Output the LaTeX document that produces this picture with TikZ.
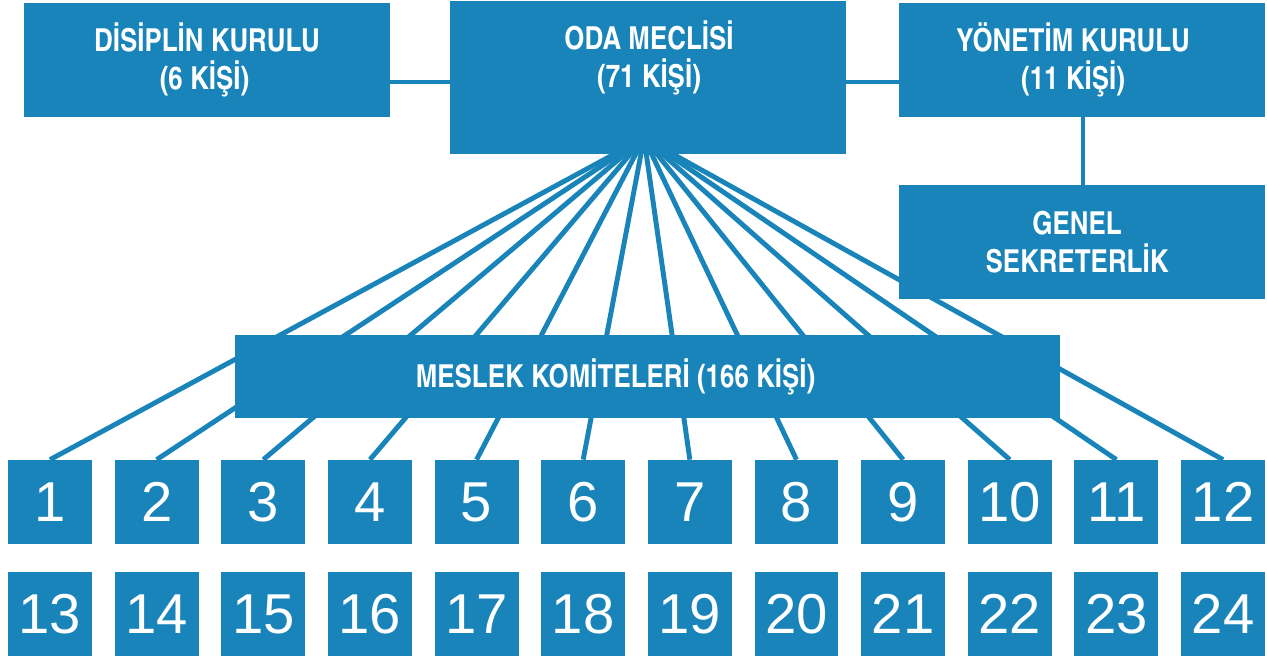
\documentclass[tikz,border=0pt]{standalone}
\usepackage{fontspec}
\usepackage{tikz}
\usetikzlibrary{positioning}
\newfontfamily\headfont{texgyreheroscn-bold.otf}
\newfontfamily\numfont{Liberation Sans}
\definecolor{orgBlue}{RGB}{25,132,185}

\begin{document}
\begin{tikzpicture}[x=0.02cm, y=-0.02cm,
        orgbox/.style={rectangle, fill=orgBlue, text=white, inner sep=0pt, align=center, font=\headfont\fontsize{18}{22}\selectfont},
        wide/.style={minimum width=7.32cm, minimum height=2.28cm},
        numbox/.style={rectangle, fill=orgBlue, text=white, inner sep=0pt, minimum width=1.68cm, minimum height=1.68cm, font=\numfont\fontsize{32}{36}\selectfont},
        link/.style={draw=orgBlue, line width=2.8pt},
    ]
    \useasboundingbox (0,0) rectangle (1267,659);
    % numbered committees
    \foreach \i in {1,...,12} {
        \pgfmathtruncatemacro\j{\i+12}
        \node[numbox] (n\i) at ({50+(\i-1)*106.64},502) {\i};
        \node[numbox] (n\j) at ({50+(\i-1)*106.64},614) {\j};
    }
    \coordinate (fan) at (644,138);
    \foreach \i in {1,...,12}
        \draw[link] (fan) -- (n\i.north);
    % boards
    \node[orgbox, minimum width=7.92cm, minimum height=3.06cm] at (648,77.5) (meclis) {};
    \node[orgbox] at (649,58) (meclisLbl) {ODA MECLİSİ\\(71 KİŞİ)};
    \node[orgbox, wide] at (207,60) (disiplin) {DİSİPLİN KURULU\\(6 KİŞİ)\hspace*{0.1cm}};
    \node[orgbox, wide] at (1082,60) (yonetim) {YÖNETİM KURULU\hspace*{0.36cm}\\(11 KİŞİ)\hspace*{0.36cm}};
    \node[orgbox, wide] at (1082,242) (genel) {GENEL\hspace*{0.2cm}\\SEKRETERLİK\hspace*{0.2cm}};
    \node[orgbox, minimum width=16.5cm, minimum height=1.66cm] at (647.5,376.5) (meslek) {MESLEK KOMİTELERİ (166 KİŞİ)\hspace*{1.28cm}};
    \draw[link] ([yshift=-0.44cm]disiplin.east) -- ([yshift=-0.44cm]disiplin.east -| meclis.west);
    \draw[link] ([yshift=-0.44cm]yonetim.west) -- ([yshift=-0.44cm]yonetim.west -| meclis.east);
    \draw[link] ([xshift=0.02cm]yonetim.south) -- ([xshift=0.02cm]genel.north);
\end{tikzpicture}
\end{document}
